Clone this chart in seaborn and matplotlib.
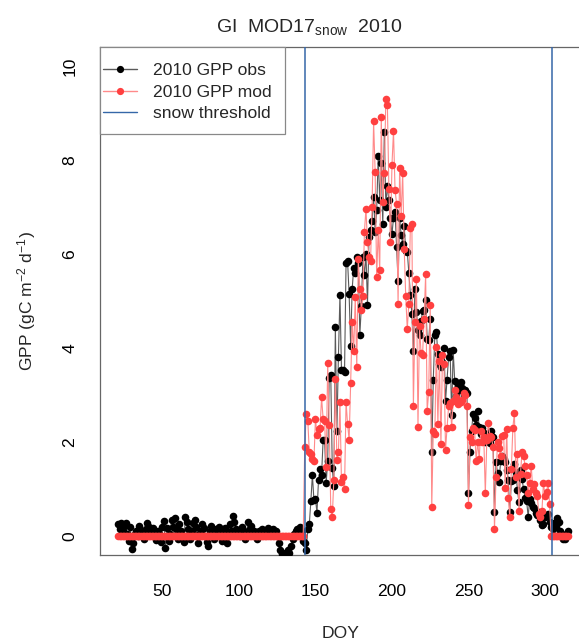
import numpy as np
import pandas as pd
import matplotlib
matplotlib.use("Agg")
import matplotlib.pyplot as plt
from matplotlib.lines import Line2D
from matplotlib.patches import Rectangle
import seaborn as sns

# ---- data -------------------------------------------------------------
# Daily GPP (gC m-2 d-1), site GI, 2010
doy_spring = list(range(21, 143))      # snow-covered days before melt
doy_season = list(range(143, 316))     # melt onwards

gpp_obs_spring = [
    0.25, 0.15, 0.28, 0.10, 0.22, 0.27, 0.05, -0.10, 0.20, -0.28,
    -0.15, 0.05, 0.12, 0.00, 0.22, 0.05, 0.10, -0.05, 0.15, 0.28,
    0.20, 0.10, 0.05, 0.18, 0.00, -0.08, 0.10, 0.05, -0.12, 0.20,
    0.32, -0.25, 0.18, -0.10, 0.05, 0.35, 0.20, 0.38, 0.15, -0.05,
    0.25, 0.10, 0.00, -0.12, 0.40, 0.30, 0.15, -0.05, 0.10, 0.28,
    0.35, 0.20, -0.15, 0.05, 0.12, 0.25, 0.18, 0.00, -0.12, -0.20,
    0.10, 0.22, 0.05, -0.05, 0.15, 0.08, 0.20, 0.00, -0.10, 0.12,
    0.18, -0.15, 0.05, 0.25, 0.10, 0.42, 0.30, 0.15, 0.05, 0.10,
    0.00, 0.20, 0.12, -0.05, 0.08, 0.30, 0.15, 0.22, 0.05, 0.12,
    0.00, -0.05, 0.10, 0.08, 0.15, 0.02, 0.05, 0.10, 0.18, 0.05,
    0.10, 0.15, 0.08, 0.12, 0.00, -0.15, -0.30, -0.38, -0.36, -0.40,
    -0.38, -0.30, -0.35, -0.20, -0.05, 0.05, 0.10, 0.15, 0.05, 0.20,
    0.12, -0.10,
]

gpp_obs_season = [
    -0.15, -0.30, 0.16, 0.26, 0.75, 1.30, 0.77, 0.79, 0.50, 1.20,
    1.43, 1.30, 2.04, 2.04, 1.13, 1.60, 3.37, 3.43, 1.45, 1.06,
    4.45, 2.23, 3.81, 5.12, 3.54, 3.54, 3.50, 5.81, 5.84, 5.14,
    4.04, 5.26, 5.70, 5.60, 5.94, 5.80, 4.28, 4.89, 5.94, 5.55,
    6.00, 4.92, 6.36, 6.50, 6.70, 7.22, 6.47, 6.93, 8.09, 7.15,
    7.93, 6.63, 8.60, 7.00, 7.45, 7.15, 6.76, 6.42, 6.77, 6.90,
    6.14, 5.43, 6.77, 6.40, 6.22, 6.59, 6.07, 6.05, 5.60, 5.12,
    4.73, 3.93, 5.26, 4.77, 4.38, 4.28, 4.58, 4.79, 4.80, 5.02,
    4.20, 4.17, 4.62, 1.78, 3.32, 4.28, 4.35, 3.88, 3.67, 3.60,
    3.70, 4.00, 2.87, 3.32, 3.80, 3.93, 2.57, 3.95, 3.30, 2.97,
    3.20, 3.10, 3.27, 3.15, 3.02, 3.10, 3.04, 0.92, 1.79, 2.23,
    2.60, 2.51, 2.36, 2.67, 2.32, 2.18, 2.30, 2.20, 2.00, 2.10,
    2.15, 1.99, 2.24, 2.10, 0.51, 1.58, 1.35, 1.15, 1.60, 1.71,
    1.65, 1.58, 1.41, 1.20, 0.51, 1.17, 1.20, 1.53, 1.37, 0.98,
    0.72, 1.41, 1.22, 1.00, 0.82, 0.75, 0.41, 0.78, 0.70, 0.63,
    0.60, 0.50, 0.45, 0.51, 0.35, 0.24, 0.25, 0.40, 0.42, 0.47,
    0.30, 0.20, 0.15, 0.28, 0.22, 0.38, 0.30, 0.12, 0.05, -0.07,
    -0.07, 0.00, 0.12,
]

# MOD17 with snow mask: zero while the ground is snow covered
gpp_mod_spring = [0.0] * len(doy_spring)

gpp_mod_season = [
    1.90, 2.60, 2.45, 1.78, 1.75, 1.65, 1.60, 2.50, 2.15, 2.28,
    2.30, 2.95, 2.50, 2.45, 1.48, 3.69, 2.36, 0.58, 0.40, 1.20,
    3.35, 1.61, 1.78, 2.86, 1.15, 1.25, 1.00, 2.86, 2.38, 2.05,
    3.25, 4.56, 3.93, 5.09, 3.60, 5.90, 5.25, 4.80, 5.10, 6.47,
    6.96, 6.25, 5.94, 5.84, 7.00, 8.82, 7.74, 5.50, 6.50, 5.65,
    8.92, 7.10, 7.73, 9.29, 9.17, 7.38, 6.25, 7.90, 8.61, 7.37,
    7.07, 4.94, 7.83, 6.80, 7.72, 6.10, 5.10, 4.40, 4.94, 6.55,
    6.63, 2.76, 4.56, 5.47, 2.33, 4.46, 3.89, 3.86, 4.62, 5.57,
    2.66, 3.06, 4.92, 0.62, 2.24, 2.17, 4.02, 2.38, 3.72, 1.96,
    3.86, 3.67, 1.84, 2.29, 2.76, 2.84, 2.33, 2.87, 3.10, 2.95,
    2.80, 2.87, 2.85, 2.90, 3.05, 3.00, 2.76, 0.67, 2.11, 2.00,
    2.30, 2.25, 1.60, 2.00, 1.65, 2.24, 2.00, 2.10, 0.91, 2.05,
    2.41, 2.13, 2.11, 1.90, 0.15, 1.26, 2.00, 1.88, 1.70, 2.13,
    2.15, 1.03, 2.27, 0.82, 0.40, 1.42, 2.31, 2.61, 1.26, 1.75,
    0.54, 1.33, 1.80, 1.70, 1.49, 1.30, 0.92, 1.13, 1.50, 1.00,
    1.10, 0.92, 0.85, 0.47, 0.40, 0.54, 1.13, 0.86, 0.93, 1.14,
    0.68,
    0.0, 0.0, 0.0, 0.0, 0.0, 0.0, 0.0, 0.0, 0.0, 0.0, 0.0, 0.0,
]

snow_threshold_doy = [142.9, 304.4]

x_ticks = [50, 100, 150, 200, 250, 300]
y_ticks = [0, 2, 4, 6, 8, 10]

assert len(gpp_obs_spring) == len(doy_spring)
assert len(gpp_obs_season) == len(doy_season)
assert len(gpp_mod_season) == len(doy_season)

df = pd.DataFrame({
    "doy": doy_spring + doy_season,
    "obs": gpp_obs_spring + gpp_obs_season,
    "mod": gpp_mod_spring + gpp_mod_season,
})

# ---- style ------------------------------------------------------------
sns.set_style("white")
plt.rcParams["font.family"] = ["Liberation Sans", "DejaVu Sans"]
plt.rcParams["mathtext.fontset"] = "custom"
plt.rcParams["mathtext.rm"] = "Liberation Sans"
plt.rcParams["mathtext.it"] = "Liberation Sans:italic"
plt.rcParams["mathtext.bf"] = "Liberation Sans:bold"

FS = 12.6
W, H = 579, 644
frame_col = "#666666"
obs_line, obs_pt = "#5a5a5a", "black"
mod_line, mod_pt = "#ff8a8a", "#ff4040"
snow_col = "#3567a8"
PT_SIZE = 30

fig = plt.figure(figsize=(W / 100, H / 100), dpi=100)
ax = fig.add_axes([100 / W, 89 / H, 486 / W, 508 / H])

# observed GPP
sns.lineplot(data=df, x="doy", y="obs", estimator=None, color=obs_line,
             linewidth=0.8, ax=ax, zorder=2)
sns.scatterplot(data=df, x="doy", y="obs", color=obs_pt, s=PT_SIZE,
                linewidth=0, ax=ax, zorder=3)
# modelled GPP
sns.lineplot(data=df, x="doy", y="mod", estimator=None, color=mod_line,
             linewidth=0.8, ax=ax, zorder=4)
sns.scatterplot(data=df, x="doy", y="mod", color=mod_pt, s=PT_SIZE,
                linewidth=0, ax=ax, zorder=5)

for d in snow_threshold_doy:
    ax.axvline(d, color=snow_col, linewidth=1.1, zorder=6)

ax.set_xlim(9.2, 326.8)
ax.set_ylim(-0.4, 10.4)
ax.set_xticks(x_ticks)
ax.set_xticklabels([str(t) for t in x_ticks])
ax.set_yticks(y_ticks)
ax.set_yticklabels([str(t) for t in y_ticks], rotation=90, va="center")
ax.tick_params(axis="both", direction="out", length=7.2, width=0.8,
               color=frame_col, labelsize=FS, labelcolor="black")
ax.tick_params(axis="x", pad=14)
ax.tick_params(axis="y", pad=9)
for sp in ax.spines.values():
    sp.set_visible(True)
    sp.set_color(frame_col)
    sp.set_linewidth(0.9)

ax.set_xlabel("")
ax.set_ylabel("")
fig.text(341 / W, 1 - 633 / H, "DOY", ha="center", va="center",
         fontsize=FS)
fig.text(27 / W, 1 - 301 / H, r"GPP (gC m$^{-2}$ d$^{-1}$)",
         rotation=90, ha="center", va="center", fontsize=FS)
fig.text(309 / W, 1 - 32 / H, r"GI  MOD17$_{\mathrm{snow}}$  2010",
         ha="center", va="baseline", fontsize=14)

# legend: entries placed without a frame, box drawn separately
handles = [
    Line2D([], [], color=obs_line, lw=1, marker="o", markersize=5.2,
           markerfacecolor=obs_pt, markeredgewidth=0),
    Line2D([], [], color=mod_line, lw=1, marker="o", markersize=5.2,
           markerfacecolor=mod_pt, markeredgewidth=0),
    Line2D([], [], color=snow_col, lw=1),
]
leg = ax.legend(handles, ["2010 GPP obs", "2010 GPP mod", "snow threshold"],
                loc="upper left", bbox_to_anchor=(103 / W, 1 - 63 / H),
                bbox_transform=fig.transFigure, borderaxespad=0,
                frameon=False, fontsize=FS, handlelength=1.95,
                handletextpad=0.9, borderpad=0, labelspacing=0.36)
leg.set_zorder(10)
box = Rectangle((100 / W, 1 - 134 / H), 185 / W, 87 / H,
                transform=fig.transFigure, facecolor="white",
                edgecolor="#888888", linewidth=0.9, zorder=9)
ax.add_artist(box)
box.set_clip_on(False)

fig.savefig("out.png", dpi=100)
